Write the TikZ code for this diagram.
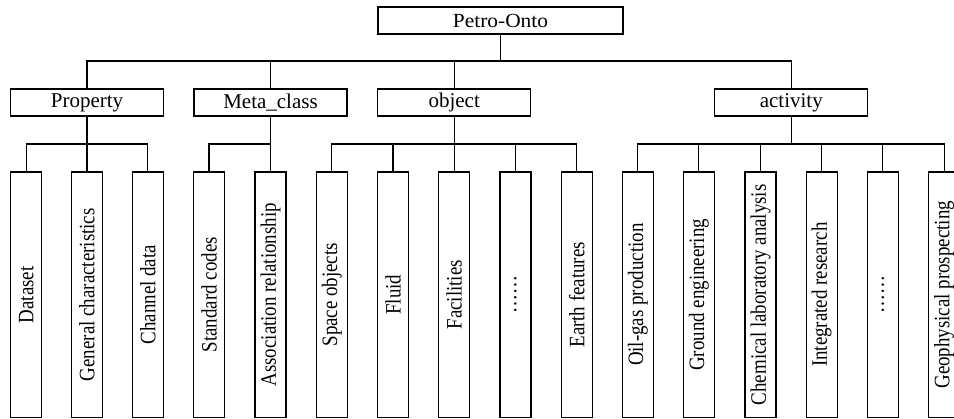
\documentclass[tikz,border=0pt]{standalone}
\usepackage{fontspec}
\setmainfont{Liberation Serif}
\newfontfamily\leaffont[FakeStretch=0.86]{Liberation Serif}
\newfontfamily\midfont[FakeStretch=1.0]{Liberation Serif}
\newfontfamily\rootfont[FakeStretch=1.07]{Liberation Serif}
\tikzset{
  box/.style={draw, line width=1.3pt, inner sep=0pt, anchor=center},
  rootbox/.style={box, minimum width=245pt, minimum height=27pt, font=\rootfont\fontsize{20}{20}\selectfont},
  midbox/.style={box, minimum width=153pt, minimum height=27pt, font=\midfont\fontsize{21}{21}\selectfont},
  leafbox/.style={box, rotate=90, minimum width=245.5pt, minimum height=31pt, font=\leaffont\fontsize{22}{22}\selectfont},
  conn/.style={line width=1.3pt},
}
\begin{document}
\begin{tikzpicture}[x=1pt,y=-1pt]
\useasboundingbox (0,0) rectangle (954,419);
\coordinate (busA) at (0,61);
\coordinate (busB) at (0,144);
% root
\node[rootbox] (root) at (500.5,20.5) {Petro-Onto};
% level 2
\node[midbox] (prop) at (87,102.5) {Property};
\node[midbox] (meta) at (270.5,102.5) {Meta\_class};
\node[midbox] (obj) at (454.2,102.5) {object};
\node[midbox] (act) at (791.3,102.5) {activity};
% leaves
\def\ly{294.75}
\node[leafbox] (p1) at (26.2,\ly) {Dataset};
\node[leafbox] (p2) at (86.9,\ly) {General characteristics};
\node[leafbox] (p3) at (147.8,\ly) {Channel data};
\node[leafbox] (m1) at (209,\ly) {Standard codes};
\node[leafbox] (m2) at (270.5,\ly) {Association relationship};
\node[leafbox] (o1) at (331.8,\ly) {Space objects};
\node[leafbox] (o2) at (393,\ly) {Fluid};
\node[leafbox] (o3) at (454.2,\ly) {Facilities};
\node[leafbox] (o4) at (515.5,\ly) {……};
\node[leafbox] (o5) at (576.8,\ly) {Earth features};
\node[leafbox] (a1) at (637.8,\ly) {Oil-gas production};
\node[leafbox] (a2) at (698.8,\ly) {Ground engineering};
\node[leafbox] (a3) at (760.5,\ly) {Chemical laboratory analysis};
\node[leafbox] (a4) at (821.7,\ly) {Integrated research};
\node[leafbox] (a5) at (882.8,\ly) {……};
\node[leafbox] (a6) at (944.2,\ly) {Geophysical prospecting};
% connectors
\foreach \c in {prop,meta,obj,act}
  \draw[conn] (root.south) -- (root.south |- busA) -| (\c.north);
\foreach \c in {p1,p2,p3}
  \draw[conn] (prop.south) -- (prop.south |- busB) -| (\c.east);
\foreach \c in {m1,m2}
  \draw[conn] (meta.south) -- (meta.south |- busB) -| (\c.east);
\foreach \c in {o1,o2,o3,o4,o5}
  \draw[conn] (obj.south) -- (obj.south |- busB) -| (\c.east);
\foreach \c in {a1,a2,a3,a4,a5,a6}
  \draw[conn] (act.south) -- (act.south |- busB) -| (\c.east);
\end{tikzpicture}
\end{document}
